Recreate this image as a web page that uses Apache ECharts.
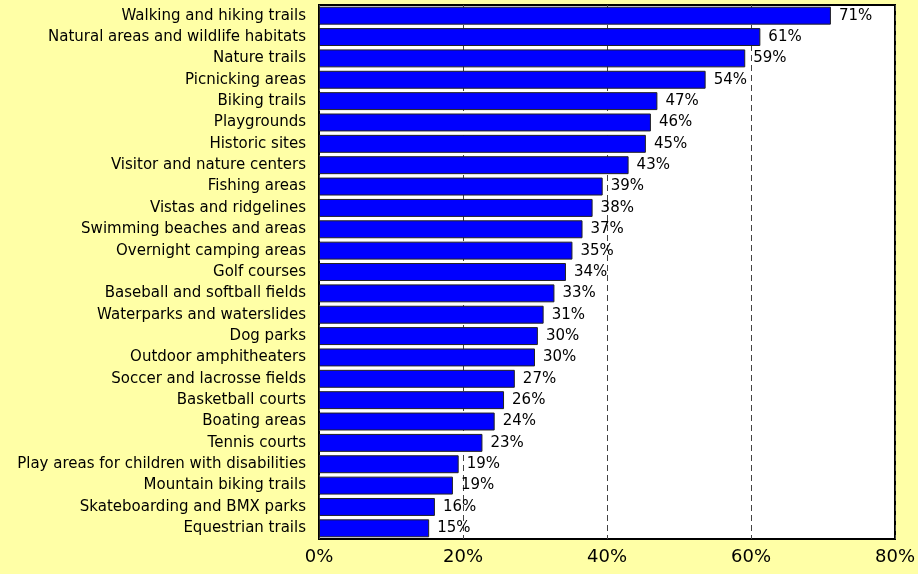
<!DOCTYPE html>
<html>
<head>
<meta charset="utf-8">
<script src="https://cdn.jsdelivr.net/npm/echarts@6/dist/echarts.min.js"></script>
<style>
  html, body { margin: 0; padding: 0; background: #FFFFA6; }
  #chart { width: 918px; height: 574px; }
</style>
</head>
<body>
<div id="chart"></div>
<script>
// 类目（从上到下）
var categories = [
  'Walking and hiking trails', 'Natural areas and wildlife habitats', 'Nature trails',
  'Picnicking areas', 'Biking trails', 'Playgrounds', 'Historic sites',
  'Visitor and nature centers', 'Fishing areas', 'Vistas and ridgelines',
  'Swimming beaches and areas', 'Overnight camping areas', 'Golf courses',
  'Baseball and softball fields', 'Waterparks and waterslides', 'Dog parks',
  'Outdoor amphitheaters', 'Soccer and lacrosse fields', 'Basketball courts',
  'Boating areas', 'Tennis courts', 'Play areas for children with disabilities',
  'Mountain biking trails', 'Skateboarding and BMX parks', 'Equestrian trails'
];
// 百分比
var values = [71.1, 61.3, 59.2, 53.7, 47.0, 46.1, 45.4, 43.0, 39.4, 38.0, 36.6, 35.2, 34.3,
  32.7, 31.2, 30.4, 30.0, 27.2, 25.7, 24.4, 22.7, 19.4, 18.6, 16.1, 15.3];
// x轴刻度
var xTicks = [0, 20, 40, 60, 80];

var chart = echarts.init(document.getElementById('chart'));
var font = 'DejaVu Sans';

var option = {
  backgroundColor: '#FFFFA6',
  animation: false,
  grid: {
    left: 319, right: 22, top: 5, bottom: 35,
    show: true,
    backgroundColor: '#FFFFFF',
    borderColor: '#000000',
    borderWidth: 2
  },
  xAxis: {
    type: 'value',
    min: xTicks[0],
    max: xTicks[xTicks.length - 1],
    interval: xTicks[1] - xTicks[0],
    axisLine: { show: false },
    axisTick: { show: false },
    axisLabel: {
      margin: 9,
      color: '#000',
      fontFamily: font,
      fontSize: 18,
      formatter: '{value}%'
    },
    splitLine: {
      show: true,
      lineStyle: { color: '#444', type: [6, 4], width: 1 }
    }
  },
  yAxis: {
    type: 'category',
    inverse: true,
    data: categories,
    axisLine: { show: false },
    axisTick: { show: false },
    axisLabel: {
      margin: 13,
      color: '#000',
      fontFamily: font,
      fontSize: 15
    }
  },
  series: [{
    type: 'bar',
    data: values,
    barCategoryGap: '16%',
    itemStyle: {
      color: '#0000FF',
      borderColor: '#222',
      borderWidth: 1
    },
    label: {
      show: true,
      position: 'right',
      distance: 8,
      color: '#000',
      fontFamily: font,
      fontSize: 15,
      formatter: function (p) { return Math.round(p.value) + '%'; }
    }
  }]
};

chart.setOption(option);
</script>
</body>
</html>
